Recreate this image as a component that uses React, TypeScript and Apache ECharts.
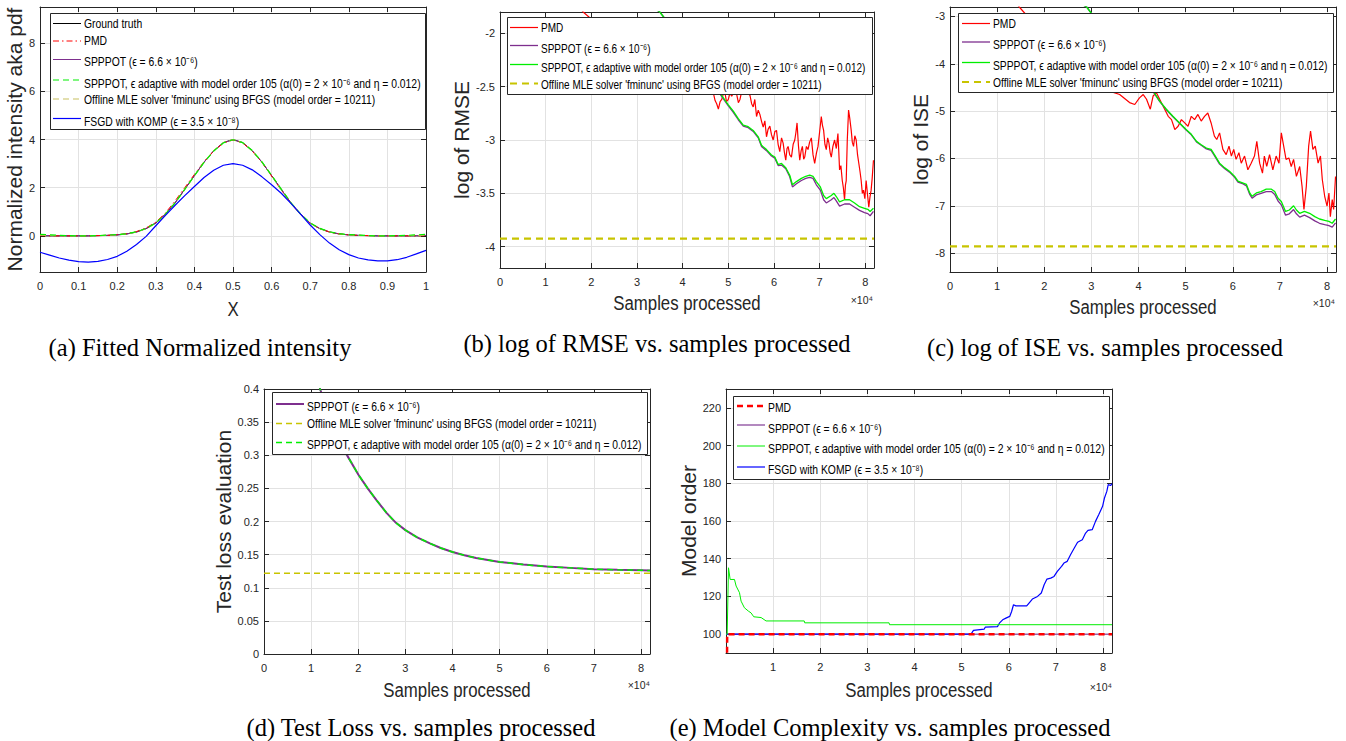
import React, { useEffect, useRef } from 'react';
import * as echarts from 'echarts';

// ---------- labels ----------
const L_TRUTH = 'Ground truth';
const L_PMD = 'PMD';
const L_SPP = 'SPPPOT (ϵ = 6.6 × 10⁻⁶)';
const L_ADA = 'SPPPOT, ϵ adaptive with model order 105 (α(0) = 2 × 10⁻⁶ and η = 0.012)';
const L_OFF = "Offline MLE solver 'fminunc' using BFGS (model order = 10211)";
const L_FSGD = 'FSGD with KOMP (ϵ = 3.5 × 10⁻⁸)';

const captions = [
  '(a) Fitted Normalized intensity',
  '(b) log of RMSE vs. samples processed',
  '(c) log of ISE vs. samples processed',
  '(d) Test Loss vs. samples processed',
  '(e) Model Complexity vs. samples processed',
];
const xNames = ['X', 'Samples processed', 'Samples processed', 'Samples processed', 'Samples processed'];
const yNames = ['Normalized intensity aka pdf', 'log of RMSE', 'log of ISE', 'Test loss evaluation', 'Model order'];

// ---------- (a) fitted normalized intensity ----------
const fitX = [0, 0.025, 0.05, 0.075, 0.1, 0.125, 0.15, 0.175, 0.2, 0.225, 0.25, 0.275, 0.3, 0.325, 0.35, 0.375, 0.4, 0.425, 0.45, 0.475, 0.5, 0.525, 0.55, 0.575, 0.6, 0.625, 0.65, 0.675, 0.7, 0.725, 0.75, 0.775, 0.8, 0.825, 0.85, 0.875, 0.9, 0.925, 0.95, 0.975, 1];
const fitTruth = [0, 0, 0, 0, 0, 0, 0.01, 0.02, 0.04, 0.08, 0.16, 0.3, 0.53, 0.9, 1.37, 1.93, 2.5, 3.06, 3.53, 3.87, 4.0, 3.87, 3.53, 3.06, 2.5, 1.93, 1.37, 0.9, 0.53, 0.3, 0.16, 0.08, 0.04, 0.02, 0.01, 0, 0, 0, 0, 0, 0];
const fitPMD = [0.01, 0, 0, 0, 0, 0, 0.01, 0.02, 0.05, 0.09, 0.18, 0.33, 0.57, 0.95, 1.45, 2.0, 2.55, 3.08, 3.52, 3.85, 3.98, 3.86, 3.52, 3.05, 2.48, 1.9, 1.35, 0.88, 0.52, 0.3, 0.16, 0.08, 0.04, 0.02, 0.01, 0, 0, 0, 0, 0, 0.01];
const fitSPP = [0.02, 0.01, 0, 0, 0, 0, 0.01, 0.02, 0.04, 0.08, 0.16, 0.31, 0.54, 0.91, 1.38, 1.94, 2.51, 3.06, 3.53, 3.87, 3.99, 3.87, 3.53, 3.06, 2.5, 1.93, 1.37, 0.9, 0.53, 0.3, 0.16, 0.08, 0.04, 0.02, 0.01, 0, 0, 0, 0, 0.01, 0.02];
const fitADA = [0.06, 0.04, 0.02, 0.01, 0, 0, 0.01, 0.03, 0.05, 0.09, 0.17, 0.31, 0.54, 0.9, 1.37, 1.93, 2.5, 3.05, 3.52, 3.86, 3.99, 3.87, 3.54, 3.07, 2.51, 1.94, 1.38, 0.91, 0.54, 0.31, 0.17, 0.09, 0.05, 0.03, 0.01, 0, 0, 0.01, 0.02, 0.04, 0.06];
const fitOFF = [0.03, 0.02, 0.01, 0, 0, 0, 0.01, 0.02, 0.04, 0.08, 0.16, 0.3, 0.53, 0.9, 1.37, 1.93, 2.5, 3.06, 3.53, 3.87, 4.0, 3.87, 3.53, 3.06, 2.5, 1.93, 1.37, 0.9, 0.53, 0.3, 0.16, 0.08, 0.04, 0.02, 0.01, 0, 0, 0, 0.01, 0.02, 0.03];
const fitFSGD = [-0.68, -0.8, -0.92, -1.01, -1.07, -1.09, -1.06, -0.98, -0.85, -0.64, -0.36, -0.02, 0.42, 0.85, 1.27, 1.67, 2.05, 2.42, 2.72, 2.93, 3.0, 2.93, 2.74, 2.45, 2.12, 1.77, 1.35, 0.9, 0.45, 0.05, -0.3, -0.58, -0.78, -0.92, -1.0, -1.04, -1.04, -0.99, -0.89, -0.75, -0.6];

// ---------- (b) log of RMSE: [samples, value] ----------
const rmsePMD = [[0, -0.5], [5000, -1.0], [10000, -1.38], [15000, -1.62], [18200, -1.8], [25000, -2.05], [30000, -2.2], [35000, -2.32], [40000, -2.42], [44000, -2.5],
  [46730, -2.56], [47100, -2.63], [47450, -2.66], [47820, -2.71], [48200, -2.64], [48550, -2.62], [48900, -2.57], [49270, -2.56], [49600, -2.64], [50000, -2.62],
  [50350, -2.56], [50730, -2.59], [51250, -2.55], [51820, -2.57], [52200, -2.65], [52550, -2.62], [52900, -2.55], [53270, -2.57], [54000, -2.55], [54730, -2.58],
  [55100, -2.66], [55450, -2.69], [55800, -2.62], [56180, -2.78], [56550, -2.72], [56910, -2.76], [57300, -2.83], [57640, -2.88], [58000, -2.82], [58360, -2.97],
  [58700, -2.9], [59090, -2.87], [59450, -2.95], [59820, -3.0], [60200, -2.92], [60550, -2.91], [60900, -3.04], [61270, -3.11], [61650, -2.98], [62000, -3.03],
  [62300, -3.12], [62580, -3.19], [62850, -3.08], [63090, -3.06], [63450, -3.14], [63820, -3.16], [64200, -3.04], [64550, -3.0], [64800, -2.93], [65050, -2.84],
  [65350, -3.05], [65640, -3.19], [65950, -3.1], [66220, -3.06], [66500, -3.18], [66730, -3.16], [67100, -3.06], [67450, -3.09], [67800, -3.02], [68180, -2.98],
  [68550, -3.14], [68910, -3.22], [69300, -3.12], [69640, -3.06], [70000, -2.92], [70360, -2.78], [70600, -2.86], [70870, -2.91], [71150, -3.04], [71450, -3.09],
  [71750, -2.98], [72040, -3.03], [72300, -3.12], [72550, -3.16], [72900, -3.06], [73270, -3.0], [73650, -3.08], [74000, -2.94], [74200, -3.12], [74360, -3.28],
  [74650, -3.24], [74950, -3.38], [75200, -3.45], [75450, -3.56], [75650, -3.42], [75820, -3.38], [76050, -3.0], [76330, -2.72], [76600, -2.8], [76910, -2.91],
  [77150, -3.02], [77420, -3.06], [77700, -2.96], [78000, -3.0], [78300, -3.14], [78580, -3.22], [78850, -3.3], [79090, -3.38], [79350, -3.5], [79600, -3.47],
  [79900, -3.55], [80180, -3.38], [80500, -3.52], [80760, -3.63], [81000, -3.54], [81270, -3.47], [81500, -3.36], [81780, -3.19]];
const rmseSPP = [[0, -0.3], [10000, -0.9], [20000, -1.35], [30000, -1.66], [35000, -1.8], [40000, -2.08], [45000, -2.4], [48180, -2.57], [50000, -2.68], [51090, -2.74],
  [52180, -2.81], [53270, -2.87], [54360, -2.885], [55450, -2.92], [56550, -2.98], [57270, -3.06], [58360, -3.1], [59450, -3.15], [60180, -3.17], [60910, -3.24],
  [61640, -3.235], [62580, -3.27], [63450, -3.345], [64040, -3.44], [64910, -3.41], [66000, -3.38], [66950, -3.36], [67820, -3.35], [68550, -3.36], [69270, -3.42],
  [70150, -3.47], [70870, -3.56], [71450, -3.59], [72550, -3.56], [73130, -3.54], [73640, -3.57], [74360, -3.62], [75450, -3.6], [76550, -3.6], [77640, -3.63],
  [78730, -3.66], [79820, -3.68], [80550, -3.69], [81050, -3.71], [81780, -3.67]];
const rmseADA = [[0, -0.3], [10000, -0.9], [20000, -1.35], [30000, -1.66], [35000, -1.8], [40000, -2.08], [45000, -2.4], [48180, -2.56], [50000, -2.67], [51090, -2.73],
  [52180, -2.8], [53270, -2.86], [54360, -2.875], [55450, -2.91], [56550, -2.97], [57270, -3.05], [58360, -3.09], [59450, -3.14], [60180, -3.16], [60910, -3.23],
  [61640, -3.22], [62580, -3.26], [63450, -3.33], [64040, -3.42], [64910, -3.39], [66000, -3.36], [66950, -3.34], [67820, -3.33], [68550, -3.34], [69270, -3.39],
  [70150, -3.44], [70870, -3.52], [71450, -3.55], [72550, -3.52], [73130, -3.5], [73640, -3.53], [74360, -3.58], [75450, -3.56], [76550, -3.56], [77640, -3.59],
  [78730, -3.625], [79820, -3.64], [80550, -3.65], [81050, -3.67], [81780, -3.64]];
const rmseOFF = [[0, -3.925], [81900, -3.925]];

// ---------- (c) log of ISE ----------
const isePMD = [[0, -1.0], [5000, -1.6], [10000, -2.2], [14700, -2.8], [20000, -3.4], [25000, -3.9], [30000, -4.3], [34500, -4.6], [36000, -4.65], [38100, -4.82],
  [39200, -4.86], [40200, -4.72], [41000, -4.65], [41700, -4.75], [42500, -4.96], [43100, -4.68], [43800, -4.61], [45200, -4.89], [46300, -5.11], [47000, -5.18],
  [47700, -5.39], [48400, -5.32], [49100, -5.18], [49800, -5.25], [50500, -5.32], [51200, -5.11], [51900, -5.18], [52600, -5.07], [53300, -5.21], [54000, -5.11],
  [54700, -5.04], [55400, -5.25], [56100, -5.53], [56600, -5.6], [57200, -5.46], [57900, -5.81], [58600, -5.92], [59200, -5.74], [59700, -5.95], [60200, -5.81],
  [60700, -6.02], [61300, -5.88], [61800, -6.1], [62500, -5.95], [63200, -6.24], [63900, -6.1], [64600, -5.95], [65100, -5.64], [65700, -6.1], [66300, -6.31],
  [66700, -5.95], [67200, -6.17], [67800, -5.92], [68500, -6.24], [69200, -5.95], [69800, -6.1], [70300, -5.46], [70800, -5.74], [71300, -6.02], [71900, -5.99],
  [72400, -6.17], [72900, -6.02], [73500, -6.38], [74200, -6.17], [74700, -6.59], [75100, -7.08], [75600, -6.59], [76100, -5.74], [76500, -5.42], [77000, -5.81],
  [77500, -5.74], [78100, -6.1], [78600, -5.95], [79000, -6.45], [79500, -6.8], [80000, -7.01], [80400, -6.73], [80700, -7.23], [81100, -6.87], [81400, -7.08], [81800, -6.38]];
const iseSPP = [[0, -0.6], [10000, -1.6], [20000, -2.3], [29000, -2.8], [35000, -3.6], [40000, -4.2], [43100, -4.59], [44500, -4.8], [45900, -4.97], [47300, -5.12],
  [48700, -5.26], [50100, -5.4], [51200, -5.5], [52300, -5.65], [53300, -5.72], [54400, -5.8], [55400, -5.83], [56100, -5.94], [57200, -6.12], [58300, -6.22],
  [59300, -6.29], [60400, -6.4], [61100, -6.5], [62200, -6.54], [62900, -6.58], [63600, -6.76], [64100, -6.84], [65000, -6.77], [66000, -6.74], [67100, -6.7],
  [68200, -6.7], [68900, -6.76], [69600, -6.9], [70300, -6.98], [71200, -7.2], [72000, -7.17], [72900, -7.08], [73500, -7.17], [74200, -7.24], [75200, -7.2],
  [76300, -7.25], [77400, -7.32], [78400, -7.37], [79500, -7.4], [80400, -7.42], [81100, -7.45], [81800, -7.36]];
const iseADA = [[0, -0.6], [10000, -1.6], [20000, -2.3], [29000, -2.8], [35000, -3.6], [40000, -4.2], [43100, -4.58], [44500, -4.79], [45900, -4.96], [47300, -5.11],
  [48700, -5.25], [50100, -5.39], [51200, -5.49], [52300, -5.64], [53300, -5.71], [54400, -5.78], [55400, -5.81], [56100, -5.92], [57200, -6.1], [58300, -6.2],
  [59300, -6.27], [60400, -6.38], [61100, -6.48], [62200, -6.52], [62900, -6.55], [63600, -6.73], [64100, -6.8], [65000, -6.73], [66000, -6.7], [67100, -6.65],
  [68200, -6.65], [68900, -6.7], [69600, -6.84], [70300, -6.91], [71200, -7.12], [72000, -7.09], [72900, -7.0], [73500, -7.09], [74200, -7.16], [75200, -7.12],
  [76300, -7.16], [77400, -7.23], [78400, -7.28], [79500, -7.31], [80400, -7.33], [81100, -7.37], [81800, -7.28]];
const iseOFF = [[0, -7.86], [81900, -7.86]];

// ---------- (d) test loss ----------
const lossSPP = [[0, 1.05], [2000, 0.9], [5000, 0.7], [8000, 0.55], [10000, 0.47], [11900, 0.4], [14000, 0.355], [16800, 0.31], [20000, 0.271], [22000, 0.25],
  [23900, 0.232], [26000, 0.213], [28000, 0.198], [30000, 0.187], [32500, 0.176], [35200, 0.167], [37500, 0.16], [40000, 0.154], [42500, 0.149], [45000, 0.145],
  [47500, 0.142], [50000, 0.139], [55000, 0.135], [60000, 0.132], [65000, 0.13], [70000, 0.128], [75000, 0.127], [80000, 0.1265], [81900, 0.126]];
const lossADA = [[0, 1.05], [2000, 0.9], [5000, 0.7], [8000, 0.55], [10000, 0.47], [11900, 0.4], [14000, 0.355], [16800, 0.31], [20000, 0.271], [22000, 0.25],
  [23900, 0.232], [26000, 0.213], [28000, 0.198], [30000, 0.187], [32500, 0.176], [35200, 0.167], [37500, 0.16], [40000, 0.154], [42500, 0.149], [45000, 0.145],
  [47500, 0.142], [50000, 0.139], [55000, 0.135], [60000, 0.132], [65000, 0.13], [70000, 0.128], [75000, 0.127], [80000, 0.1265], [81900, 0.126]];
const lossOFF = [[0, 0.122], [81900, 0.122]];

// ---------- (e) model order ----------
const orderPMD = [[0, 0], [250, 100], [81900, 100]];
const orderSPP = [[0, 100], [81900, 100]];
const orderADA = [[0, 100], [250, 100], [530, 135.2], [880, 129], [1800, 129], [2150, 125.5], [2860, 122], [3200, 117.5], [3900, 114], [4760, 112.2],
  [5300, 111.3], [5900, 109.2], [7450, 108.8], [8500, 107], [16600, 107], [16700, 106], [34600, 106], [34700, 105], [81900, 105]];
const orderFSGD = [[0, 100], [52000, 100], [52500, 102], [54800, 102.7], [55000, 103.7], [57600, 104], [58000, 105.8], [58700, 107.6], [59400, 108.5],
  [60200, 109.4], [60600, 112], [61000, 115.6], [61500, 115], [63800, 115], [64300, 116.5], [65000, 118.6], [66100, 120], [66900, 121.8], [67500, 126.2],
  [68100, 129.2], [68900, 129.7], [69600, 130.6], [70300, 133.3], [71200, 135.9], [71700, 137.7], [72400, 138.6], [73100, 142.1], [73900, 145.7], [74600, 148.7],
  [75600, 150.1], [76300, 153.6], [76800, 155], [77700, 155.4], [78400, 159.8], [79100, 163.4], [79900, 167.8], [80300, 172.2], [80800, 175.7], [81100, 179.3],
  [81600, 178.8], [81900, 179.8]];

// ---------- styling ----------
const SANS = "'Liberation Sans', Arial, Helvetica, sans-serif";
const SERIF = "'Liberation Serif', 'Times New Roman', serif";
const AX = '#262626';
const GRIDC = '#e2e2e2';
const RED = '#ff0000';
const PURPLE = '#7e2f8e';
const GREEN = '#00ee00';
const YELLOW = '#c8c400';
const BLUE = '#0000ff';

type Sty = { color: string; width: number; dash: any };
const S = {
  aTruth: { color: '#000000', width: 1, dash: 'solid' },
  aPMD: { color: RED, width: 1, dash: [6, 3, 1.5, 3] },
  aSPP: { color: PURPLE, width: 1, dash: 'solid' },
  aADA: { color: GREEN, width: 1.2, dash: [6, 4] },
  aOFF: { color: '#c8c060', width: 1.2, dash: [6, 4] },
  aFSGD: { color: BLUE, width: 1.2, dash: 'solid' },
  bPMD: { color: RED, width: 1.2, dash: 'solid' },
  bSPP: { color: PURPLE, width: 1.3, dash: 'solid' },
  bADA: { color: GREEN, width: 1.3, dash: 'solid' },
  bOFF: { color: YELLOW, width: 2.2, dash: [7, 5] },
  dSPP: { color: PURPLE, width: 2, dash: 'solid' },
  dOFF: { color: YELLOW, width: 1.5, dash: [6, 4] },
  dADA: { color: GREEN, width: 1.5, dash: [6, 4] },
  ePMD: { color: RED, width: 2.5, dash: [6, 4] },
  eSPP: { color: '#9a62aa', width: 1.5, dash: 'solid' },
  eADA: { color: GREEN, width: 1, dash: 'solid' },
  eFSGD: { color: BLUE, width: 1.2, dash: 'solid' },
};

const grids = [
  { left: 40, top: 7, width: 386, height: 265 },
  { left: 500, top: 12, width: 374, height: 256 },
  { left: 950, top: 7, width: 386, height: 265 },
  { left: 264, top: 389, width: 386, height: 265 },
  { left: 726, top: 389, width: 386, height: 264 },
];

const samplesFmt = (v: number) => String(Math.round(v / 1000) / 10);

function xAxes(gi: number, c: any) {
  const base = {
    type: 'value', gridIndex: gi, min: c.min, max: c.max, interval: c.interval,
    axisLine: { show: true, onZero: false, lineStyle: { color: AX, width: 1 } },
    axisTick: { show: true, inside: true, length: 5, lineStyle: { color: AX } },
  };
  return [
    {
      ...base, position: 'bottom',
      axisLabel: { show: true, color: AX, fontFamily: SANS, fontSize: 11, margin: 8, formatter: c.formatter, showMinLabel: c.showMin, showMaxLabel: c.showMax },
      splitLine: { show: true, lineStyle: { color: GRIDC, width: 1 } },
    },
    { ...base, position: 'top', axisLabel: { show: false }, splitLine: { show: false } },
  ];
}

function yAxes(gi: number, c: any) {
  const base = {
    type: 'value', gridIndex: gi, min: c.min, max: c.max, interval: c.interval,
    minInterval: c.step, maxInterval: c.step,
    axisLine: { show: true, onZero: false, lineStyle: { color: AX, width: 1 } },
    axisTick: { show: true, inside: true, length: 5, lineStyle: { color: AX } },
  };
  return [
    {
      ...base, position: 'left', name: yNames[gi], nameLocation: 'middle', nameGap: c.nameGap,
      nameTextStyle: { fontFamily: SANS, fontSize: 21, color: AX },
      axisLabel: { show: true, color: AX, fontFamily: SANS, fontSize: 11, margin: 5, showMinLabel: c.showMin, showMaxLabel: c.showMax },
      splitLine: { show: true, lineStyle: { color: GRIDC, width: 1 } },
    },
    { ...base, position: 'right', axisLabel: { show: false }, splitLine: { show: false } },
  ];
}

function ln(name: string, gi: number, data: any[], s: Sty) {
  return {
    type: 'line', name, xAxisIndex: gi * 2, yAxisIndex: gi * 2, data, symbol: 'none', showSymbol: false,
    color: s.color, lineStyle: { color: s.color, width: s.width, type: s.dash }, emphasis: { disabled: true },
    silent: true, animation: false, clip: true, z: 2,
  };
}

// legend boxes drawn with graphic elements: box, icon line, label
function legendBox(box: number[], iconX: number, textX: number, iconY: number[], textY: number[], items: [string, Sty][], scale: number) {
  const els: any[] = [{
    type: 'rect', z: 50, silent: true,
    shape: { x: box[0] + 0.5, y: box[1] + 0.5, width: box[2] - box[0], height: box[3] - box[1] },
    style: { fill: '#ffffff', stroke: AX, lineWidth: 1 },
  }];
  items.forEach(([label, s], i) => {
    const st: any = { stroke: s.color, lineWidth: s.width, fill: null };
    if (s.dash !== 'solid') st.lineDash = s.dash;
    els.push({
      type: 'polyline', z: 52, silent: true,
      shape: { points: [[iconX, iconY[i]], [iconX + 28, iconY[i]]] },
      style: st,
    });
    els.push({
      type: 'text', z: 51, silent: true, x: textX, y: textY[i], scaleX: scale,
      style: { text: label, fontFamily: SANS, fontSize: 12.5, fill: '#000000', align: 'left', verticalAlign: 'middle' },
    });
  });
  return els;
}

function buildOption() {
  const xa: any[] = [];
  const ya: any[] = [];
  const sampX = { min: 0, max: 81900, interval: 10000, formatter: samplesFmt, showMin: true, showMax: false };
  xa.push(...xAxes(0, { min: 0, max: 1, interval: 0.1, showMin: true, showMax: true }));
  ya.push(...yAxes(0, { min: -1.5, max: 9.5, step: 2, nameGap: 10, showMin: false, showMax: false }));
  xa.push(...xAxes(1, sampX));
  ya.push(...yAxes(1, { min: -4.2, max: -1.8, step: 0.5, nameGap: 13, showMin: false, showMax: false }));
  xa.push(...xAxes(2, sampX));
  ya.push(...yAxes(2, { min: -8.4, max: -2.8, step: 1, nameGap: 10, showMin: false, showMax: false }));
  xa.push(...xAxes(3, sampX));
  ya.push(...yAxes(3, { min: 0, max: 0.4, interval: 0.05, nameGap: 19, showMin: true, showMax: true }));
  xa.push(...xAxes(4, { ...sampX, showMin: false }));
  ya.push(...yAxes(4, { min: 90, max: 230, step: 20, nameGap: 19, showMin: false, showMax: false }));

  const pair = (ys: number[]) => fitX.map((x, i) => [x, ys[i]]);

  const series = [
    ln(L_TRUTH, 0, pair(fitTruth), S.aTruth),
    ln(L_SPP, 0, pair(fitSPP), S.aSPP),
    ln(L_PMD, 0, pair(fitPMD), S.aPMD),
    ln(L_OFF, 0, pair(fitOFF), S.aOFF),
    ln(L_ADA, 0, pair(fitADA), S.aADA),
    ln(L_FSGD, 0, pair(fitFSGD), S.aFSGD),

    ln(L_OFF, 1, rmseOFF, S.bOFF),
    ln(L_PMD, 1, rmsePMD, S.bPMD),
    ln(L_SPP, 1, rmseSPP, S.bSPP),
    ln(L_ADA, 1, rmseADA, S.bADA),

    ln(L_OFF, 2, iseOFF, S.bOFF),
    ln(L_PMD, 2, isePMD, S.bPMD),
    ln(L_SPP, 2, iseSPP, S.bSPP),
    ln(L_ADA, 2, iseADA, S.bADA),

    ln(L_OFF, 3, lossOFF, S.dOFF),
    ln(L_SPP, 3, lossSPP, S.dSPP),
    ln(L_ADA, 3, lossADA, S.dADA),

    ln(L_SPP, 4, orderSPP, S.eSPP),
    ln(L_FSGD, 4, orderFSGD, S.eFSGD),
    ln(L_PMD, 4, orderPMD, S.ePMD),
    ln(L_ADA, 4, orderADA, S.eADA),
  ];

  const graphics: any[] = [];
  // legends
  graphics.push(...legendBox([50, 13, 425, 129], 53, 84, [23.5, 41, 59.5, 80, 99, 118.5], [24, 41, 62, 83.5, 99.5, 122],
    [[L_TRUTH, S.aTruth], [L_PMD, S.aPMD], [L_SPP, S.aSPP], [L_ADA, S.aADA], [L_OFF, S.aOFF], [L_FSGD, S.aFSGD]], 0.83));
  graphics.push(...legendBox([507, 17, 872, 94], 510, 541, [27.5, 45.5, 64.5, 83.5], [27.5, 49, 67.5, 85],
    [[L_PMD, S.bPMD], [L_SPP, S.bSPP], [L_ADA, S.bADA], [L_OFF, S.bOFF]], 0.8));
  graphics.push(...legendBox([958, 13, 1333, 92], 962, 993, [23.5, 42, 62.5, 82], [23.5, 44.5, 65.5, 82.5],
    [[L_PMD, S.bPMD], [L_SPP, S.bSPP], [L_ADA, S.bADA], [L_OFF, S.bOFF]], 0.825));
  graphics.push(...legendBox([272, 392, 647, 454], 276, 307, [404, 423.5, 442.5], [407, 423.5, 445],
    [[L_SPP, S.dSPP], [L_OFF, S.dOFF], [L_ADA, S.dADA]], 0.825));
  graphics.push(...legendBox([733, 396, 1109, 479], 737, 768, [406, 425, 446, 467], [407.5, 429, 449, 470],
    [[L_PMD, S.ePMD], [L_SPP, S.eSPP], [L_ADA, S.eADA], [L_FSGD, S.eFSGD]], 0.83));

  // x axis titles
  const xNamePos = [[233, 309], [687, 303], [1143, 307], [457, 690], [919, 690]];
  xNames.forEach((t, i) => graphics.push({
    type: 'text', silent: true, x: xNamePos[i][0], y: xNamePos[i][1], scaleX: 0.8,
    style: { text: t, fontFamily: SANS, fontSize: 21, fill: AX, align: 'center', verticalAlign: 'middle' },
  }));
  // captions
  const capPos = [[200, 347], [657, 343], [1105, 347], [421, 727], [890, 727]];
  captions.forEach((t, i) => graphics.push({
    type: 'text', x: capPos[i][0], y: capPos[i][1], silent: true,
    style: { text: t, fontFamily: SERIF, fontSize: 24.5, fill: '#000', align: 'center', verticalAlign: 'middle' },
  }));
  // exponent labels
  const expPos = [[873, 294], [1335, 297], [650, 679], [1112, 681]];
  expPos.forEach((p) => graphics.push({
    type: 'text', x: p[0], y: p[1], silent: true,
    style: { text: '×10⁴', fontFamily: SANS, fontSize: 10.5, fill: AX, align: 'right', verticalAlign: 'top' },
  }));

  return {
    animation: false,
    backgroundColor: '#ffffff',
    textStyle: { fontFamily: SANS },
    grid: grids.map((g) => ({ ...g, containLabel: false })),
    xAxis: xa,
    yAxis: ya,
    series,
    graphic: { elements: graphics },
  };
}

export default function App() {
  const ref = useRef<HTMLDivElement>(null);
  useEffect(() => {
    const chart = echarts.init(ref.current as HTMLDivElement, undefined, { renderer: 'svg' });
    chart.setOption(buildOption() as any);
    return () => chart.dispose();
  }, []);
  return <div ref={ref} style={{ position: 'absolute', left: 0, top: 0, width: 1346, height: 741, background: '#fff' }} />;
}
